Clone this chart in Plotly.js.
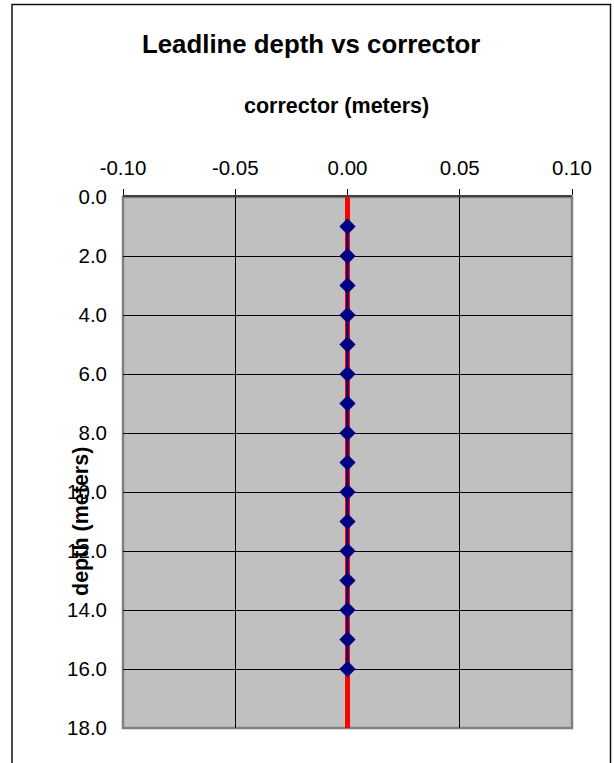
<!DOCTYPE html>
<html>
<head>
<meta charset="utf-8">
<script src="https://cdn.plot.ly/plotly-3.0.1.min.js"></script>
<style>
html,body{margin:0;padding:0;background:#fff;}
#chart{width:614px;height:763px;}
</style>
</head>
<body>
<div id="chart"></div>
<script>
// Data
var depthMeters = [1, 2, 3, 4, 5, 6, 7, 8, 9, 10, 11, 12, 13, 14, 15, 16];
var correctorMeters = [0, 0, 0, 0, 0, 0, 0, 0, 0, 0, 0, 0, 0, 0, 0, 0];
var refLineDepth = [0, 18];
var refLineCorrector = [0, 0];
var xTickVals = [-0.10, -0.05, 0.00, 0.05, 0.10];
var xTickLabels = ['-0.10', '-0.05', '0.00', '0.05', '0.10'];
var yTickVals = [0, 2, 4, 6, 8, 10, 12, 14, 16, 18];
var yTickLabels = ['0.0', '2.0', '4.0', '6.0', '8.0', '10.0', '12.0', '14.0', '16.0', '18.0'];

var font = "'Liberation Sans', Arial, sans-serif";

var traces = [
  {
    x: refLineCorrector, y: refLineDepth, type: 'scatter', mode: 'lines',
    line: {color: '#FF0000', width: 5}, hoverinfo: 'skip', showlegend: false
  },
  {
    x: correctorMeters, y: depthMeters, type: 'scatter', mode: 'lines+markers',
    line: {color: '#000080', width: 2.5},
    marker: {symbol: 'diamond', size: 12.5, color: '#000080'},
    showlegend: false, cliponaxis: false
  }
];

var L = 123, R = 572, T = 197, B = 728, W = 614, H = 763;
var pw = R - L, ph = B - T;
function px(x){ return (x - L) / pw; }
function py(y){ return (B - y) / ph; }

var layout = {
  width: W, height: H,
  margin: {l: L, r: W - R, t: T, b: H - B, pad: 0},
  paper_bgcolor: '#FFFFFF',
  plot_bgcolor: '#C0C0C0',
  font: {family: font, color: '#000', size: 20.5},
  showlegend: false,
  xaxis: {
    side: 'top', range: [-0.1, 0.1], tickvals: xTickVals, ticktext: xTickLabels,
    ticks: 'outside', ticklen: 6, tickcolor: '#000', tickwidth: 1,
    showgrid: true, gridcolor: '#000', gridwidth: 1,
    showline: true, linecolor: '#404040', linewidth: 2,
    zeroline: false, fixedrange: true, ticklabelstandoff: 6,
    tickfont: {family: font, size: 20.5, color: '#000'}
  },
  yaxis: {
    range: [18, 0], tickvals: yTickVals, ticktext: yTickLabels,
    ticks: '', showgrid: true, gridcolor: '#000', gridwidth: 1,
    showline: false, zeroline: false, fixedrange: true,
    ticklabelstandoff: 15,
    tickfont: {family: font, size: 20.5, color: '#000'}
  },
  shapes: [
    {type: 'rect', xref: 'paper', yref: 'paper', x0: 0, x1: 1, y0: 0, y1: 1,
     line: {color: '#808080', width: 2.5}, layer: 'below', fillcolor: 'rgba(0,0,0,0)'},
    {type: 'rect', xref: 'paper', yref: 'paper', x0: px(12), x1: px(610.5), y0: py(800), y1: py(4.5),
     line: {color: '#111', width: 1.5}, fillcolor: 'rgba(0,0,0,0)'}
  ],
  annotations: [
    {text: '<b>Leadline depth vs corrector</b>', xref: 'paper', yref: 'paper',
     x: px(311), y: py(44), xanchor: 'center', yanchor: 'middle', showarrow: false,
     font: {family: font, size: 25.8, color: '#000'}},
    {text: '<b>corrector (meters)</b>', xref: 'paper', yref: 'paper',
     x: px(336.5), y: py(106), xanchor: 'center', yanchor: 'middle', showarrow: false,
     font: {family: font, size: 21.5, color: '#000'}},
    {text: '<b>depth (meters)</b>', xref: 'paper', yref: 'paper', textangle: -90,
     x: px(81), y: py(522), xanchor: 'center', yanchor: 'middle', showarrow: false,
     font: {family: font, size: 21.5, color: '#000'}}
  ]
};

Plotly.newPlot('chart', traces, layout, {displayModeBar: false, staticPlot: true});
</script>
</body>
</html>
